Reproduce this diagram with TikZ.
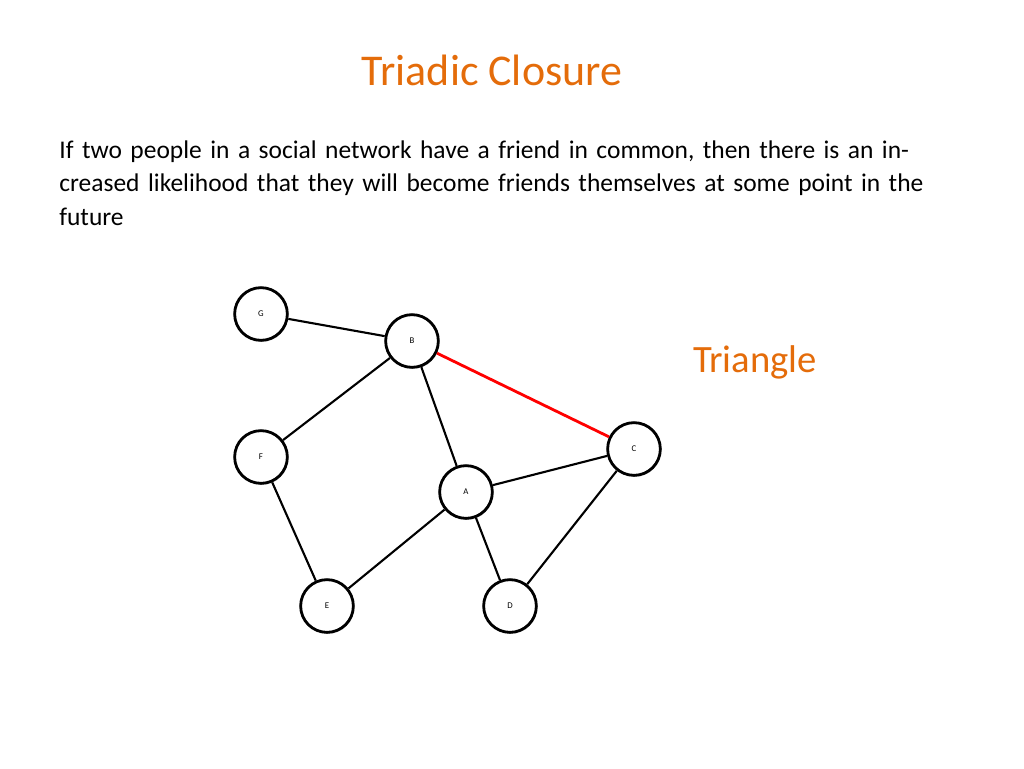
\documentclass[tikz,border=0pt]{standalone}
\usepackage{fontspec}
\setmainfont{Carlito}
\usetikzlibrary{shadows}
\definecolor{titleorange}{RGB}{228,108,10}
\tikzset{
  person/.style={circle, draw=black, line width=1.6pt, fill=white, minimum size=30pt,
    inner sep=0pt, font=\fontsize{5}{6}\selectfont, drop shadow={opacity=0.5, shadow xshift=0.5pt, shadow yshift=-0.8pt}},
  tie/.style={line width=1.2pt, black},
  newtie/.style={line width=1.6pt, red}
}
\begin{document}
\begin{tikzpicture}[x=0.02cm, y=-0.02cm]
    \useasboundingbox (0,0) rectangle (1024,768);
    % Title and text
    \node[font=\fontsize{25}{30}\selectfont, text=titleorange] (title) at (492,70) {Triadic Closure};
    \node[anchor=north west, align=left, text width=880*0.02cm, font=\fontsize{14.5}{19.3}\selectfont, inner sep=0pt] (text) at (59,140)
      {If two people in a social network have a friend in common, then there is an increased likelihood that they will become friends themselves at some point in the future};
    \node[font=\fontsize{22}{26}\selectfont, text=titleorange] (label) at (755,362) {Triangle};

    % People
    \node[person] (G) at (261,314) {G};
    \node[person] (B) at (412,341) {B};
    \node[person] (F) at (261,457) {F};
    \node[person] (A) at (466,492) {A};
    \node[person] (C) at (634,449) {C};
    \node[person] (E) at (327,606) {E};
    \node[person] (D) at (510,606) {D};

    % Ties
    \begin{scope}[on background layer/.try]
    \foreach \u/\v in {G/B, B/F, B/A, F/E, A/E, A/C, A/D, C/D}
        \draw[tie] (\u) -- (\v);
    \draw[newtie] (B) -- (C);
    \end{scope}
\end{tikzpicture}
\end{document}
